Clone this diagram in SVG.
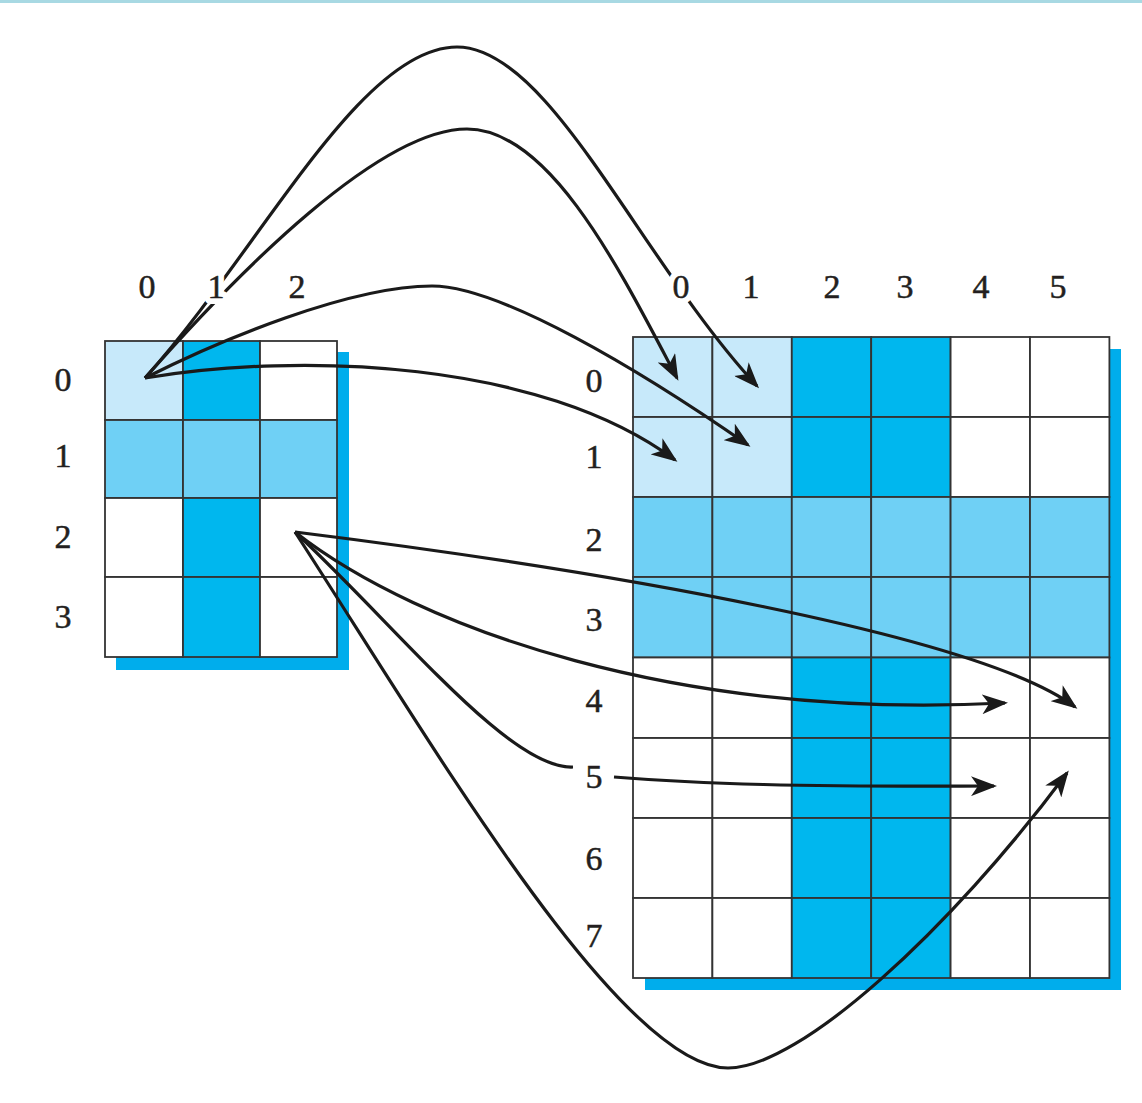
<svg xmlns="http://www.w3.org/2000/svg" width="1142" height="1103" viewBox="0 0 1142 1103">
<defs>
<style>
.L{fill:#c7e9fa}.M{fill:#6fd0f5}.D{fill:#00b7ee}.W{fill:#ffffff}
rect.c{stroke:#333333;stroke-width:1.8}
.shadow{fill:#00adec}
.lbl{font-family:"Liberation Serif","Times New Roman",serif;font-size:34px;fill:#231f20;stroke:#231f20;stroke-width:0.5;text-anchor:middle}
.halo{font-family:"Liberation Serif","Times New Roman",serif;font-size:34px;fill:#ffffff;stroke:#ffffff;stroke-width:12;stroke-linejoin:round;text-anchor:middle}
.con{fill:none;stroke:#1a1a1a;stroke-width:3.2}
</style>
<marker id="ah" viewBox="0 0 26 20" refX="23" refY="10" markerWidth="26" markerHeight="20" markerUnits="userSpaceOnUse" orient="auto">
<path d="M0,0 L26,10 L0,20 L7,10 Z" fill="#1a1a1a"/>
</marker>
</defs>
<rect x="0" y="0" width="1142" height="1103" fill="#ffffff"/>
<rect x="0" y="0" width="1142" height="3" fill="#a8d9e3"/>

<g id="small-grid">
<rect class="shadow" x="116" y="352" width="233" height="318"/>
<rect class="c L" x="105" y="341" width="78" height="79"/>
<rect class="c D" x="183" y="341" width="77" height="79"/>
<rect class="c W" x="260" y="341" width="77" height="79"/>
<rect class="c M" x="105" y="420" width="78" height="78"/>
<rect class="c M" x="183" y="420" width="77" height="78"/>
<rect class="c M" x="260" y="420" width="77" height="78"/>
<rect class="c W" x="105" y="498" width="78" height="79"/>
<rect class="c D" x="183" y="498" width="77" height="79"/>
<rect class="c W" x="260" y="498" width="77" height="79"/>
<rect class="c W" x="105" y="577" width="78" height="80"/>
<rect class="c D" x="183" y="577" width="77" height="80"/>
<rect class="c W" x="260" y="577" width="77" height="80"/>
</g>

<g id="big-grid">
<rect class="shadow" x="645" y="349" width="476" height="641"/>
<rect class="c L" x="633" y="337" width="79.4" height="80"/>
<rect class="c L" x="712.4" y="337" width="79.4" height="80"/>
<rect class="c D" x="791.8" y="337" width="79.4" height="80"/>
<rect class="c D" x="871.2" y="337" width="79.4" height="80"/>
<rect class="c W" x="950.6" y="337" width="79.4" height="80"/>
<rect class="c W" x="1030" y="337" width="79.4" height="80"/>
<rect class="c L" x="633" y="417" width="79.4" height="80"/>
<rect class="c L" x="712.4" y="417" width="79.4" height="80"/>
<rect class="c D" x="791.8" y="417" width="79.4" height="80"/>
<rect class="c D" x="871.2" y="417" width="79.4" height="80"/>
<rect class="c W" x="950.6" y="417" width="79.4" height="80"/>
<rect class="c W" x="1030" y="417" width="79.4" height="80"/>
<rect class="c M" x="633" y="497" width="79.4" height="80"/>
<rect class="c M" x="712.4" y="497" width="79.4" height="80"/>
<rect class="c M" x="791.8" y="497" width="79.4" height="80"/>
<rect class="c M" x="871.2" y="497" width="79.4" height="80"/>
<rect class="c M" x="950.6" y="497" width="79.4" height="80"/>
<rect class="c M" x="1030" y="497" width="79.4" height="80"/>
<rect class="c M" x="633" y="577" width="79.4" height="80.5"/>
<rect class="c M" x="712.4" y="577" width="79.4" height="80.5"/>
<rect class="c M" x="791.8" y="577" width="79.4" height="80.5"/>
<rect class="c M" x="871.2" y="577" width="79.4" height="80.5"/>
<rect class="c M" x="950.6" y="577" width="79.4" height="80.5"/>
<rect class="c M" x="1030" y="577" width="79.4" height="80.5"/>
<rect class="c W" x="633" y="657.5" width="79.4" height="80.5"/>
<rect class="c W" x="712.4" y="657.5" width="79.4" height="80.5"/>
<rect class="c D" x="791.8" y="657.5" width="79.4" height="80.5"/>
<rect class="c D" x="871.2" y="657.5" width="79.4" height="80.5"/>
<rect class="c W" x="950.6" y="657.5" width="79.4" height="80.5"/>
<rect class="c W" x="1030" y="657.5" width="79.4" height="80.5"/>
<rect class="c W" x="633" y="738" width="79.4" height="80"/>
<rect class="c W" x="712.4" y="738" width="79.4" height="80"/>
<rect class="c D" x="791.8" y="738" width="79.4" height="80"/>
<rect class="c D" x="871.2" y="738" width="79.4" height="80"/>
<rect class="c W" x="950.6" y="738" width="79.4" height="80"/>
<rect class="c W" x="1030" y="738" width="79.4" height="80"/>
<rect class="c W" x="633" y="818" width="79.4" height="80"/>
<rect class="c W" x="712.4" y="818" width="79.4" height="80"/>
<rect class="c D" x="791.8" y="818" width="79.4" height="80"/>
<rect class="c D" x="871.2" y="818" width="79.4" height="80"/>
<rect class="c W" x="950.6" y="818" width="79.4" height="80"/>
<rect class="c W" x="1030" y="818" width="79.4" height="80"/>
<rect class="c W" x="633" y="898" width="79.4" height="80"/>
<rect class="c W" x="712.4" y="898" width="79.4" height="80"/>
<rect class="c D" x="791.8" y="898" width="79.4" height="80"/>
<rect class="c D" x="871.2" y="898" width="79.4" height="80"/>
<rect class="c W" x="950.6" y="898" width="79.4" height="80"/>
<rect class="c W" x="1030" y="898" width="79.4" height="80"/>
</g>

<g id="connectors">
<path class="con" marker-end="url(#ah)" d="M145,378 C260,250 360,47 457,47 C550,47 640,260 757,386"/>
<path class="con" marker-end="url(#ah)" d="M145,378 C240,270 380,129 467,129 C550,129 620,270 677,378"/>
<path class="con" marker-end="url(#ah)" d="M145,378 C220,340 350,286 432,286 C500,286 640,370 748,445"/>
<path class="con" marker-end="url(#ah)" d="M145,378 C300,352 540,360 675,460"/>
<path class="con" marker-end="url(#ah)" d="M295,532 C600,570 980,635 1075,707"/>
<path class="con" marker-end="url(#ah)" d="M295,532 C420,630 680,720 1005,703"/>
<path class="con" d="M295,532 C400,630 510,770 573,767"/>
<path class="con" marker-end="url(#ah)" d="M614,777 C700,784 800,787 994,786"/>
<path class="con" marker-end="url(#ah)" d="M295,532 C430,740 620,1068 728,1068 C800,1068 950,930 1067,773"/>
</g>

<g id="labels">
<text class="halo" x="216" y="298">1</text>
<text class="halo" x="681" y="298">0</text>
<text class="lbl" x="147" y="298">0</text>
<text class="lbl" x="216" y="298">1</text>
<text class="lbl" x="297" y="298">2</text>
<text class="lbl" x="63" y="391">0</text>
<text class="lbl" x="63" y="467">1</text>
<text class="lbl" x="63" y="548">2</text>
<text class="lbl" x="63" y="628">3</text>
<text class="lbl" x="681" y="298">0</text>
<text class="lbl" x="751" y="298">1</text>
<text class="lbl" x="832" y="298">2</text>
<text class="lbl" x="905" y="298">3</text>
<text class="lbl" x="981" y="298">4</text>
<text class="lbl" x="1058" y="298">5</text>
<text class="lbl" x="594" y="392">0</text>
<text class="lbl" x="594" y="468">1</text>
<text class="lbl" x="594" y="551">2</text>
<text class="lbl" x="594" y="631">3</text>
<text class="lbl" x="594" y="712">4</text>
<text class="lbl" x="594" y="788">5</text>
<text class="lbl" x="594" y="870">6</text>
<text class="lbl" x="594" y="947">7</text>
</g>
</svg>
